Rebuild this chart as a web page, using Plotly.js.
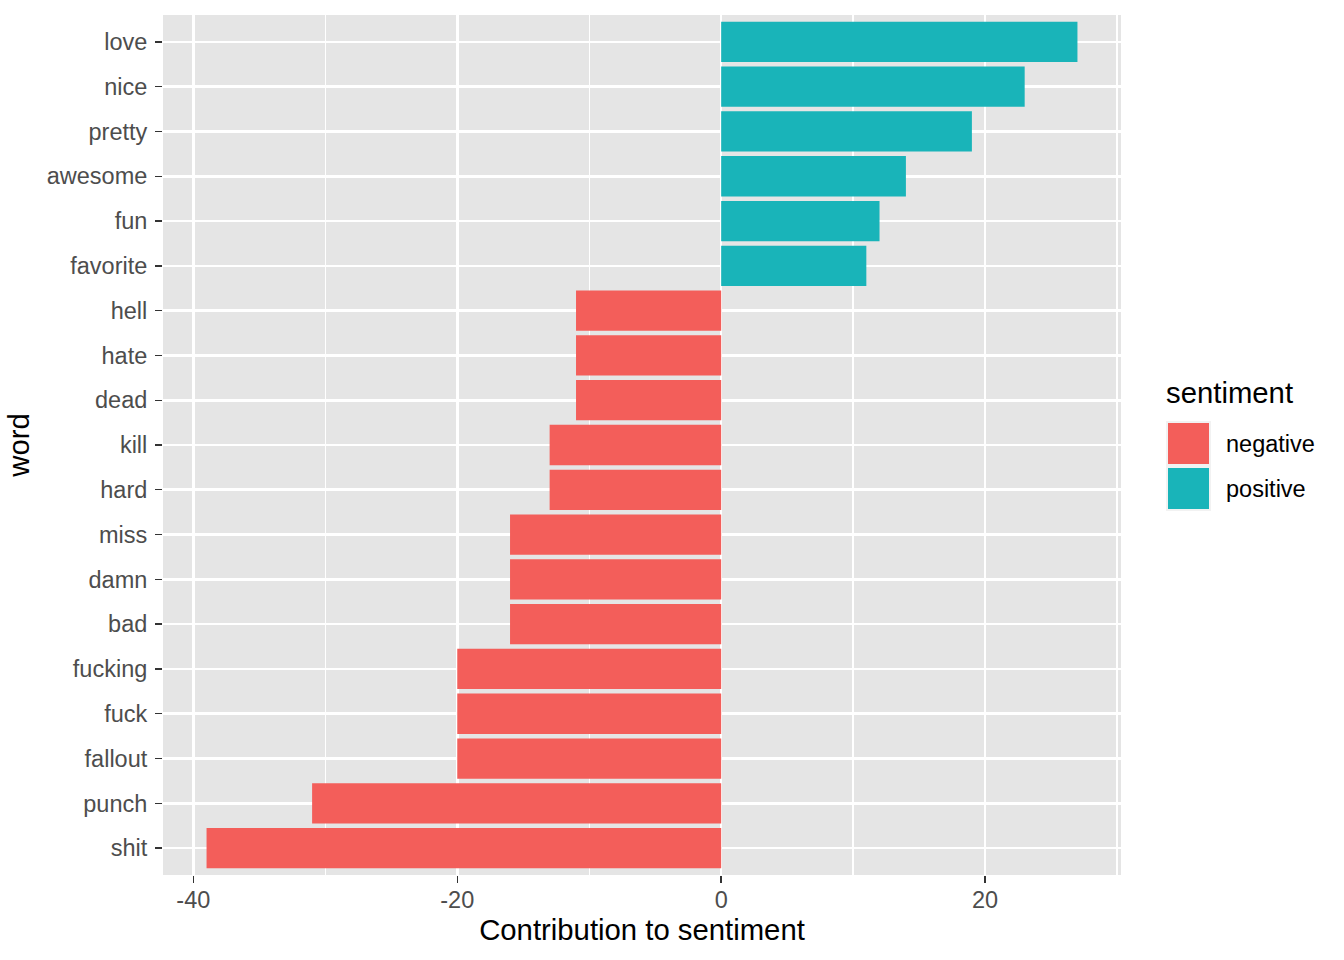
<!DOCTYPE html>
<html>
<head>
<meta charset="utf-8">
<script src="https://cdn.plot.ly/plotly-3.0.1.min.js"></script>
<style>html,body{margin:0;padding:0;background:#fff;}#chart{width:1344px;height:960px;}</style>
</head>
<body>
<div id="chart"></div>
<script>
// Category order, bottom to top
const words = ["shit","punch","fallout","fuck","fucking","bad","damn","miss","hard","kill","dead","hate","hell","favorite","fun","awesome","pretty","nice","love"];

const negativeWords = ["shit","punch","fallout","fuck","fucking","bad","damn","miss","hard","kill","dead","hate","hell"];
const negativeValues = [-39,-31,-20,-20,-20,-16,-16,-16,-13,-13,-11,-11,-11];

const positiveWords = ["favorite","fun","awesome","pretty","nice","love"];
const positiveValues = [11,12,14,19,23,27];

const xTickValues = [-40,-20,0,20];
const xTickLabels = ["-40","-20","0","20"];

const sentimentLabels = ["negative","positive"];
const sentimentColors = ["#F35E5A","#19B4B9"];

const FONT = "Liberation Sans, Arial, Helvetica, sans-serif";
const W = 1344, H = 960;
const L = 163, R = 1121, T = 15, B = 875;
const px = x => (x - L) / (R - L);
const py = y => (B - y) / (B - T);

const traces = [
  {type:"bar", orientation:"h", name:sentimentLabels[0], y:negativeWords, x:negativeValues,
   width:0.9, marker:{color:sentimentColors[0], line:{width:0}}, showlegend:false, hoverinfo:"x+y"},
  {type:"bar", orientation:"h", name:sentimentLabels[1], y:positiveWords, x:positiveValues,
   width:0.9, marker:{color:sentimentColors[1], line:{width:0}}, showlegend:false, hoverinfo:"x+y"}
];

// custom ggplot-style legend
const shapes = [];
const annotations = [];
const keyTop = [421, 466];
sentimentLabels.forEach((lab, i) => {
  const y0 = keyTop[i], y1 = keyTop[i] + 45;
  shapes.push({type:"rect", xref:"paper", yref:"paper", x0:px(1166), x1:px(1211), y0:py(y1), y1:py(y0),
    fillcolor:"#F2F2F2", line:{width:0}, layer:"above"});
  shapes.push({type:"rect", xref:"paper", yref:"paper", x0:px(1168), x1:px(1209), y0:py(y1-2), y1:py(y0+2),
    fillcolor:sentimentColors[i], line:{width:0}, layer:"above"});
  annotations.push({xref:"paper", yref:"paper", x:px(1224), y:py((y0+y1)/2), xanchor:"left", yanchor:"middle",
    text:lab, showarrow:false, font:{family:FONT, size:23.5, color:"#000000"}});
});
annotations.push({xref:"paper", yref:"paper", x:px(1164), y:py(393), xanchor:"left", yanchor:"middle",
  text:"sentiment", showarrow:false, font:{family:FONT, size:29.3, color:"#000000"}});

const layout = {
  width:W, height:H,
  margin:{l:L, r:W-R, t:T, b:H-B, pad:0},
  paper_bgcolor:"#FFFFFF",
  plot_bgcolor:"#E5E5E5",
  barmode:"relative",
  showlegend:false,
  font:{family:FONT, color:"#4D4D4D"},
  xaxis:{
    range:[-42.3, 30.3],
    tickvals:xTickValues, ticktext:xTickLabels,
    ticks:"outside", ticklen:7, tickwidth:1.4, tickcolor:"#333333",
    ticklabelstandoff:-3,
    tickfont:{family:FONT, size:23.5, color:"#4D4D4D"},
    showgrid:true, gridcolor:"#FFFFFF", gridwidth:2.6,
    minor:{dtick:10, tick0:0, showgrid:true, gridcolor:"#FFFFFF", gridwidth:1.3, ticks:""},
    zeroline:false, showline:false,
    title:{text:"Contribution to sentiment", font:{family:FONT, size:29.3, color:"#000000"}, standoff:5},
    automargin:false
  },
  yaxis:{
    type:"category", categoryorder:"array", categoryarray:words,
    range:[-0.6, words.length - 0.4],
    ticks:"outside", ticklen:7, tickwidth:1.4, tickcolor:"#333333",
    ticklabelstandoff:3,
    tickfont:{family:FONT, size:23.5, color:"#4D4D4D"},
    showgrid:true, gridcolor:"#FFFFFF", gridwidth:2.6,
    zeroline:false, showline:false,
    title:{text:"word", font:{family:FONT, size:29.3, color:"#000000"}, standoff:8},
    automargin:false
  },
  shapes:shapes,
  annotations:annotations
};

Plotly.newPlot("chart", traces, layout, {displayModeBar:false, staticPlot:true});
</script>
</body>
</html>
